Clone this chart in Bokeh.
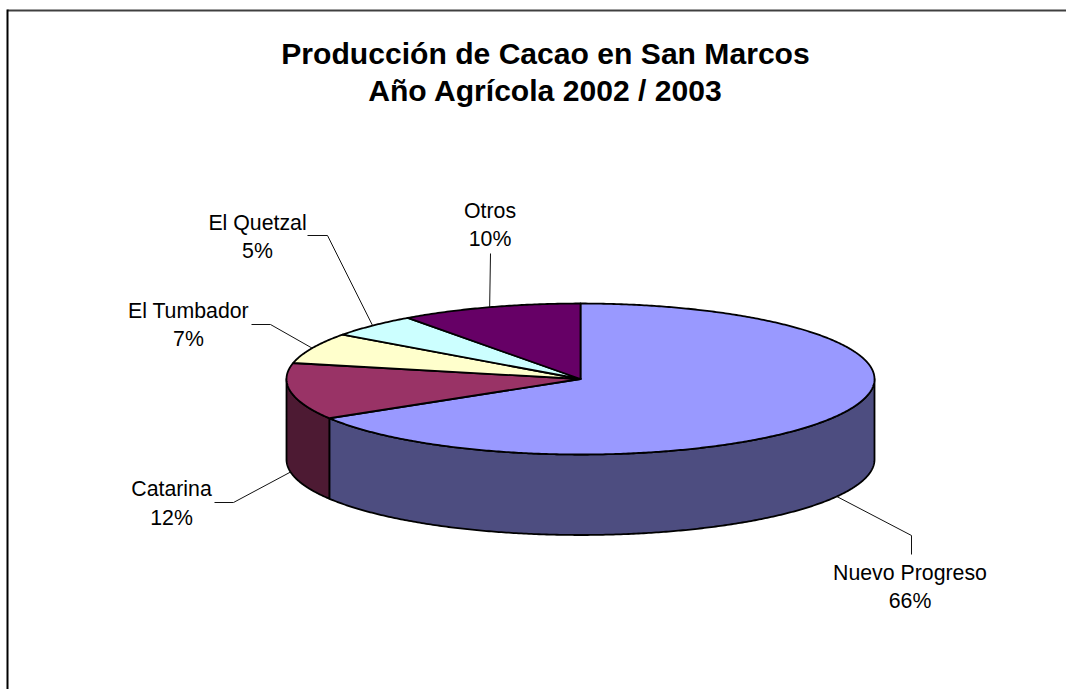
import math
from bokeh.plotting import figure
from bokeh.models import Range1d
from bokeh.core.properties import value
from bokeh.embed import file_html
from bokeh.resources import INLINE

# Data
categories = ["Nuevo Progreso", "Catarina", "El Tumbador", "El Quetzal", "Otros"]
shares = [66.3, 12.1, 6.6, 5.0, 10.0]
share_labels = ["66%", "12%", "7%", "5%", "10%"]
top_colors = ["#9999FF", "#993366", "#FFFFCC", "#CCFFFF", "#660066"]
side_colors = ["#4D4D80", "#4D1A33", "#808066", "#668080", "#330033"]
title_lines = ["Producción de Cacao en San Marcos", "Año Agrícola 2002 / 2003"]

# Layout (page pixel based chart space)
W, H = 1066, 689
CX, CY, RX, RY, DEPTH = 580, 378.5, 294, 75.5, 80.5
FONT = "Liberation Sans"

# label centre x, name y, percent y, then leader polyline points before the anchor
label_pos = {
    "Nuevo Progreso": (909.5, 572, 600),
    "Catarina": (171, 488, 517),
    "El Tumbador": (188, 310, 338),
    "El Quetzal": (257, 222, 250),
    "Otros": (489.5, 210, 238),
}
leader_elbows = {
    "Nuevo Progreso": [(911, 554), (911, 535)],
    "Catarina": [(214, 502), (233, 502)],
    "El Tumbador": [(251, 324), (270, 324)],
    "El Quetzal": [(307, 235), (327, 235)],
    "Otros": [(490, 253)],
}


def pt(deg, dz=0.0):
    a = math.radians(deg)
    return CX + RX * math.sin(a), CY - RY * math.cos(a) + dz


def arc(a0, a1, dz=0.0):
    n = max(2, int(abs(a1 - a0) * 2) + 1)
    return [pt(a0 + (a1 - a0) * i / (n - 1), dz) for i in range(n)]


p = figure(width=W, height=H, output_backend="svg", toolbar_location=None,
           x_range=Range1d(0, W), y_range=Range1d(H, 0),
           x_axis_type=None, y_axis_type=None, min_border=0,
           outline_line_color=None, background_fill_color="white",
           border_fill_color="white")
p.grid.visible = False

# chart frame: only top and left edges are visible
p.line([7, W], [10, 10], line_color="#404040", line_width=2)
p.line([7, 7], [9, H], line_color="#000000", line_width=2)

total = sum(shares)
spans, start = [], 0.0
for s in shares:
    end = start + 360.0 * s / total
    spans.append((start, end))
    start = end

# side walls
for (a0, a1), col in zip(spans, side_colors):
    lo, hi = max(a0, 90.0), min(a1, 270.0)
    if hi <= lo:
        continue
    outline = arc(lo, hi) + arc(hi, lo, DEPTH)
    p.patch([q[0] for q in outline], [q[1] for q in outline], fill_color=col,
            line_color="black", line_width=1.8, line_join="round")

# top slices
for (a0, a1), col in zip(spans, top_colors):
    outline = [(CX, CY)] + arc(a0, a1)
    p.patch([q[0] for q in outline], [q[1] for q in outline], fill_color=col,
            line_color="black", line_width=1.8, line_join="round")

# leaders
for cat, (a0, a1) in zip(categories, spans):
    mid = (a0 + a1) / 2
    anchor = pt(mid, DEPTH if 90 < mid < 270 else 0)
    pts = leader_elbows[cat] + [anchor]
    p.line([q[0] for q in pts], [q[1] for q in pts], line_color="#111111", line_width=1)

# labels
for cat, lab in zip(categories, share_labels):
    x, y1, y2 = label_pos[cat]
    p.text([x, x], [y1, y2], text=[cat, lab], text_font=value(FONT),
           text_font_size="21.3px", text_color="#000000",
           text_align="center", text_baseline="middle")

# title
p.text([545, 545], [53, 90], text=title_lines, text_font=value(FONT),
       text_font_size="30.1px", text_font_style="bold", text_color="#000000",
       text_align="center", text_baseline="middle")

open("out.html", "w").write(file_html(p, INLINE))
